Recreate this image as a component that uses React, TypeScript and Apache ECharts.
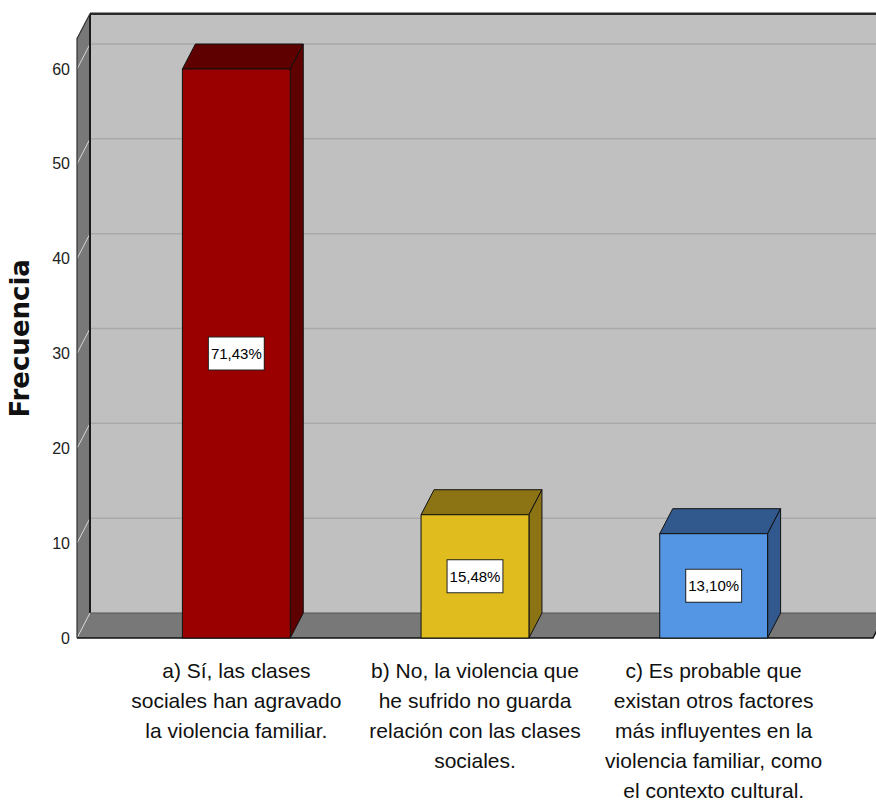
import React, { useEffect, useRef } from "react";
import * as echarts from "echarts";

const categories = [
  "a) Sí, las clases\nsociales han agravado\nla violencia familiar.",
  "b) No, la violencia que\nhe sufrido no guarda\nrelación con las clases\nsociales.",
  "c) Es probable que\nexistan otros factores\nmás influyentes en la\nviolencia familiar, como\nel contexto cultural.",
];
const frequencies = [60, 13, 11];
const percentLabels = ["71,43%", "15,48%", "13,10%"];
const yTicks = [10, 20, 30, 40, 50, 60];
const yMax = 63.2;
const frontColors = ["#9b0000", "#e0bc1f", "#5496e4"];
const shadeColors = ["#5e0000", "#8c7415", "#32598e"];

const FONT = "'Liberation Sans', Arial, sans-serif";
const DX = 13;
const DY = 25;
const PAD = 40;

export default function App() {
  const ref = useRef<HTMLDivElement>(null);

  useEffect(() => {
    if (!ref.current) return;
    const chart = echarts.init(ref.current, undefined, { renderer: "svg" });

    const wallsRender = (params: any, api: any) => {
      const cs = params.coordSys;
      const x0 = cs.x - PAD;
      const x1 = cs.x + cs.width + PAD;
      const yb = api.coord([0, 0])[1];
      const yt = api.coord([0, yMax])[1];
      const children: any[] = [];
      children.push({
        type: "rect",
        shape: { x: x0 + DX, y: yt - DY, width: x1 - x0 + 20, height: yb - yt },
        style: { fill: "#c0c0c0" },
      });
      children.push({
        type: "polygon",
        shape: { points: [[x0, yt], [x0 + DX, yt - DY], [x0 + DX, yb - DY], [x0, yb]] },
        style: { fill: "#787878" },
      });
      yTicks.forEach((t) => {
        const y = api.coord([0, t])[1];
        children.push({
          type: "line",
          shape: { x1: x0 + DX, y1: y - DY, x2: x1 + DX + 20, y2: y - DY },
          style: { stroke: "#a9a9a9", lineWidth: 1.5 },
        });
        children.push({
          type: "line",
          shape: { x1: x0, y1: y, x2: x0 + DX, y2: y - DY },
          style: { stroke: "#d6d6d6", lineWidth: 1 },
        });
      });
      children.push({
        type: "polygon",
        shape: { points: [[x0, yb], [x0 + DX, yb - DY], [x1 + DX, yb - DY], [x1, yb]] },
        style: { fill: "#787878" },
      });
      children.push({
        type: "line",
        shape: { x1: x0, y1: yb, x2: x0 + DX, y2: yb - DY },
        style: { stroke: "#d6d6d6", lineWidth: 1 },
      });
      children.push({
        type: "line",
        shape: { x1: x0 + DX, y1: yt - DY, x2: x1 + DX + 20, y2: yt - DY },
        style: { stroke: "#2a2a2a", lineWidth: 2.5 },
      });
      children.push({
        type: "line",
        shape: { x1: x0 + DX, y1: yt - DY, x2: x0 + DX, y2: yb - DY },
        style: { stroke: "#1a1a1a", lineWidth: 2 },
      });
      children.push({
        type: "line",
        shape: { x1: x0 + DX, y1: yb - DY, x2: x1 + DX, y2: yb - DY },
        style: { stroke: "#555555", lineWidth: 1 },
      });
      children.push({
        type: "polyline",
        shape: { points: [[x0, yb], [x0, yt], [x0 + DX, yt - DY]] },
        style: { stroke: "#333333", lineWidth: 1.2, fill: "none" },
      });
      children.push({
        type: "polyline",
        shape: { points: [[x0, yb], [x1, yb], [x1 + DX, yb - DY]] },
        style: { stroke: "#111111", lineWidth: 1.5, fill: "none" },
      });
      return { type: "group", children };
    };

    const barsRender = (params: any, api: any) => {
      const i = api.value(0);
      const v = api.value(1);
      const top = api.coord([i, v]);
      const cx = top[0];
      const ty = top[1];
      const by = api.coord([i, 0])[1];
      const bw = api.size([1, 0])[0] * 0.452;
      const xl = cx - bw / 2;
      const xr = cx + bw / 2;
      const edge = { stroke: "#111", lineWidth: 1 };
      return {
        type: "group",
        children: [
          {
            type: "polygon",
            shape: { points: [[xl, ty], [xl + DX, ty - DY], [xr + DX, ty - DY], [xr, ty]] },
            style: { fill: shadeColors[i], ...edge },
          },
          {
            type: "polygon",
            shape: { points: [[xr, ty], [xr + DX, ty - DY], [xr + DX, by - DY], [xr, by]] },
            style: { fill: shadeColors[i], ...edge },
          },
          {
            type: "rect",
            shape: { x: xl, y: ty, width: bw, height: by - ty },
            style: { fill: frontColors[i], ...edge },
          },
          {
            type: "text",
            x: cx,
            y: (ty + by) / 2,
            style: {
              text: percentLabels[i],
              fontFamily: FONT,
              fontSize: 15,
              fill: "#000",
              align: "center",
              verticalAlign: "middle",
              backgroundColor: "#ffffff",
              borderColor: "#222",
              borderWidth: 1,
              padding: [9, 2, 8, 2],
            },
          },
        ],
      };
    };

    chart.setOption({
      animation: false,
      backgroundColor: "#ffffff",
      grid: {
        left: 117,
        right: 43,
        top: 38.7,
        bottom: 171,
        containLabel: false,
        outerBoundsMode: "none",
      },
      xAxis: {
        type: "category",
        data: categories,
        axisLine: { show: false },
        axisTick: { show: false },
        axisLabel: {
          interval: 0,
          margin: 17,
          fontFamily: FONT,
          fontSize: 21,
          lineHeight: 30,
          color: "#111",
          align: "center",
        },
      },
      yAxis: {
        type: "value",
        min: 0,
        max: yMax,
        interval: 10,
        offset: PAD,
        name: "Frecuencia",
        nameLocation: "middle",
        nameRotate: 90,
        nameGap: 44,
        nameTextStyle: {
          fontFamily: "'DejaVu Sans', sans-serif",
          fontWeight: "bold",
          fontSize: 26,
          color: "#111",
        },
        axisLine: { show: false },
        axisTick: { show: false },
        splitLine: { show: false },
        axisLabel: {
          showMaxLabel: false,
          margin: 7,
          fontFamily: FONT,
          fontSize: 16,
          color: "#222",
          padding: [9, 0, 0, 0],
        },
      },
      series: [
        {
          type: "custom",
          z: 1,
          silent: true,
          data: [[0, 0]],
          renderItem: wallsRender,
        },
        {
          type: "custom",
          z: 2,
          data: frequencies.map((v, i) => [i, v]),
          encode: { x: 0, y: 1 },
          renderItem: barsRender,
        },
      ],
    });

    return () => chart.dispose();
  }, []);

  return (
    <div
      ref={ref}
      style={{ position: "absolute", left: 0, top: 0, width: 876, height: 809 }}
    />
  );
}
